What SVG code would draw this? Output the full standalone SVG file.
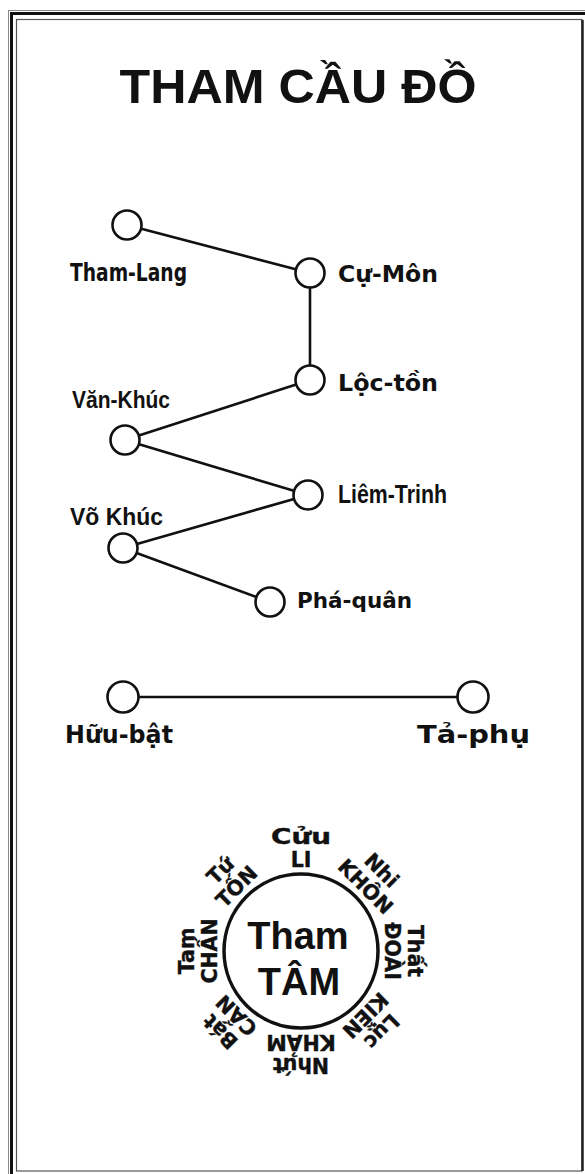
<svg xmlns="http://www.w3.org/2000/svg" width="585" height="1174" viewBox="0 0 585 1174">
<style>
.node{fill:#fff;stroke:#111;stroke-width:2.6}
.edge{stroke:#111;stroke-width:2.6;fill:none}
.lbl{font-family:"DejaVu Sans",sans-serif;font-weight:bold;fill:#111}
.lbl2{font-family:"Liberation Sans",Arial,sans-serif;font-weight:bold;fill:#111}
.ring{font-family:"DejaVu Sans",sans-serif;font-weight:bold;font-size:20.5px;fill:#111;stroke:#111;stroke-width:0.4;text-anchor:middle}
</style>
<rect width="585" height="1174" fill="#fff"/>
<g id="frame" fill="none">
<rect x="8.5" y="10.5" width="600" height="1200" stroke="#888" stroke-width="1"/>
<rect x="11.5" y="13.5" width="600" height="1200" stroke="#111" stroke-width="3"/>
<rect x="16.5" y="19.5" width="565.5" height="1151.5" stroke="#555" stroke-width="1.2"/>
<line x1="582.5" y1="20" x2="582.5" y2="1171" stroke="#222" stroke-width="2.5"/>
</g>
<g id="title">
<text x="298" y="103" font-family="Liberation Sans, Arial, sans-serif" font-weight="bold" font-size="48" text-anchor="middle" textLength="357" lengthAdjust="spacingAndGlyphs" fill="#111">THAM CẦU ĐỒ</text>
</g>
<g id="connectors">
<line class="edge" x1="127" y1="225" x2="310" y2="273"/>
<line class="edge" x1="310" y1="273" x2="310" y2="380"/>
<line class="edge" x1="310" y1="380" x2="125" y2="440"/>
<line class="edge" x1="125" y1="440" x2="308" y2="495"/>
<line class="edge" x1="308" y1="495" x2="123" y2="548"/>
<line class="edge" x1="123" y1="548" x2="270" y2="602"/>
<line class="edge" x1="123" y1="697" x2="473" y2="697" stroke-width="2.2"/>
</g>
<g id="tham-lang"><circle class="node" cx="127" cy="225" r="14.5"/><text class="lbl" x="70" y="281" font-size="24" textLength="117" lengthAdjust="spacingAndGlyphs">Tham-Lang</text></g>
<g id="cu-mon"><circle class="node" cx="310" cy="273" r="14.5"/><text class="lbl" x="338" y="282" font-size="23" textLength="100" lengthAdjust="spacingAndGlyphs">Cự-Môn</text></g>
<g id="loc-ton"><circle class="node" cx="310" cy="380" r="14.5"/><text class="lbl" x="338" y="391" font-size="23" textLength="100" lengthAdjust="spacingAndGlyphs">Lộc-tồn</text></g>
<g id="van-khuc"><circle class="node" cx="125" cy="440" r="14.5"/><text class="lbl2" x="72" y="408" font-size="23" textLength="98" lengthAdjust="spacingAndGlyphs">Văn-Khúc</text></g>
<g id="liem-trinh"><circle class="node" cx="308" cy="495" r="14.5"/><text class="lbl2" x="338" y="503" font-size="25" textLength="109" lengthAdjust="spacingAndGlyphs">Liêm-Trinh</text></g>
<g id="vo-khuc"><circle class="node" cx="123" cy="548" r="14.5"/><text class="lbl2" x="70" y="525" font-size="23" textLength="93" lengthAdjust="spacingAndGlyphs">Võ Khúc</text></g>
<g id="pha-quan"><circle class="node" cx="270" cy="602" r="14.5"/><text class="lbl" x="297" y="608" font-size="22" textLength="115" lengthAdjust="spacingAndGlyphs">Phá-quân</text></g>
<g id="huu-bat"><circle class="node" cx="123" cy="697" r="15.5"/><text class="lbl" x="65" y="743" font-size="24" textLength="108" lengthAdjust="spacingAndGlyphs">Hữu-bật</text></g>
<g id="ta-phu"><circle class="node" cx="473" cy="697" r="15.5"/><text class="lbl" x="417" y="743" font-size="24" textLength="113" lengthAdjust="spacingAndGlyphs">Tả-phụ</text></g>
<g id="tham-tam">
<circle cx="301" cy="951" r="77" fill="none" stroke="#111" stroke-width="3.5"/>
<text x="298" y="949" font-family="Liberation Sans, Arial, sans-serif" font-weight="bold" font-size="38" text-anchor="middle" fill="#111">Tham</text>
<text x="299" y="995" font-family="Liberation Sans, Arial, sans-serif" font-weight="bold" font-size="38" text-anchor="middle" fill="#111">TÂM</text>
</g>
<g id="ring-li" transform="translate(301,951) rotate(0)">
<text class="ring" x="0" y="-84">LI</text><text class="ring" x="0" y="-107" textLength="60" lengthAdjust="spacingAndGlyphs">Cửu</text>
</g>
<g id="ring-khon" transform="translate(301,951) rotate(45)">
<text class="ring" x="0" y="-84">KHÔN</text><text class="ring" x="0" y="-107">Nhi</text>
</g>
<g id="ring-doai" transform="translate(301,951) rotate(90)">
<text class="ring" x="0" y="-84">ĐOÀI</text><text class="ring" x="0" y="-107">Thất</text>
</g>
<g id="ring-kien" transform="translate(301,951) rotate(135)">
<text class="ring" x="0" y="-84">KIỀN</text><text class="ring" x="0" y="-107">Lục</text>
</g>
<g id="ring-kham" transform="translate(301,951) rotate(180)">
<text class="ring" x="0" y="-84">KHẢM</text><text class="ring" x="0" y="-107">Nhứt</text>
</g>
<g id="ring-can" transform="translate(301,951) rotate(225)">
<text class="ring" x="0" y="-84">CẤN</text><text class="ring" x="0" y="-107">Bát</text>
</g>
<g id="ring-chan" transform="translate(301,951) rotate(270)">
<text class="ring" x="0" y="-84">CHẤN</text><text class="ring" x="0" y="-107">Tam</text>
</g>
<g id="ring-ton" transform="translate(301,951) rotate(315)">
<text class="ring" x="0" y="-84">TỐN</text><text class="ring" x="0" y="-107">Tứ</text>
</g>
</svg>
